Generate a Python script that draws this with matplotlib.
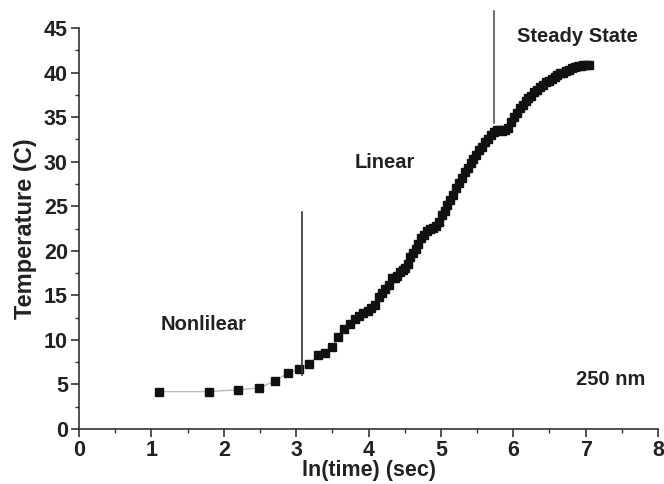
import numpy as np
import matplotlib
matplotlib.use('Agg')
import matplotlib.pyplot as plt
from matplotlib.ticker import MultipleLocator

plt.rcParams['font.family'] = ['Liberation Sans', 'DejaVu Sans']
plt.rcParams['font.weight'] = 'bold'

# ln(time) values
ln_time = [1.10, 1.79, 2.20, 2.48, 2.71, 2.89, 3.04, 3.18, 3.30, 3.40,
           3.50, 3.58, 3.66, 3.74, 3.81, 3.87, 3.93, 3.99, 4.04, 4.09,
           4.14, 4.19, 4.23, 4.28, 4.32, 4.36, 4.40, 4.44, 4.47, 4.51,
           4.54, 4.58, 4.61, 4.65, 4.69, 4.73, 4.77, 4.81, 4.85, 4.89,
           4.93, 4.97, 5.01, 5.05, 5.09, 5.13, 5.17, 5.21, 5.25, 5.29,
           5.33, 5.37, 5.41, 5.45, 5.49, 5.53, 5.57, 5.61, 5.65, 5.69,
           5.73, 5.77, 5.81, 5.85, 5.89, 5.93, 5.97, 6.01, 6.05, 6.09,
           6.13, 6.17, 6.21, 6.25, 6.29, 6.33, 6.37, 6.41, 6.45, 6.49,
           6.53, 6.57, 6.61, 6.65, 6.69, 6.73, 6.77, 6.81, 6.85, 6.89,
           6.93, 6.97, 7.01, 7.05]

# temperature (C)
temp = [4.2, 4.2, 4.4, 4.6, 5.4, 6.3, 6.7, 7.3, 8.3, 8.5,
        9.2, 10.3, 11.2, 11.8, 12.4, 12.7, 13.0, 13.3, 13.6, 13.9,
        14.8, 15.3, 15.7, 16.2, 16.9, 17.0, 17.2, 17.6, 17.8, 18.1,
        18.5, 19.3, 19.7, 20.2, 20.8, 21.4, 21.8, 22.2, 22.4, 22.6,
        22.8, 23.2, 24.0, 24.5, 25.1, 25.7, 26.3, 27.0, 27.6, 28.2,
        28.8, 29.3, 29.8, 30.3, 30.8, 31.3, 31.7, 32.2, 32.6, 33.0,
        33.3, 33.5, 33.5, 33.4, 33.5, 33.8, 34.4, 35.0, 35.5, 36.0,
        36.4, 36.8, 37.1, 37.4, 37.8, 38.1, 38.4, 38.6, 38.9, 39.1,
        39.3, 39.5, 39.7, 39.9, 40.0, 40.2, 40.3, 40.5, 40.6, 40.7,
        40.7, 40.8, 40.8, 40.8]

# region boundaries (x, y_bottom, y_top)
boundary1 = (3.08, 6.1, 24.4)
boundary2 = (5.74, 34.3, 46.9)

fig = plt.figure(figsize=(6.64, 4.84), dpi=100)
ax = fig.add_axes([0.119, 0.1136, 0.872, 0.8285])

ax.plot(ln_time, temp, color='#bbbbbb', lw=1.0, zorder=1)
ax.plot(ln_time, temp, ls='none', marker='s', ms=6.2, color='#111111', zorder=2)

ax.plot([boundary1[0], boundary1[0]], [boundary1[1], boundary1[2]], color='#333333', lw=1.2)
ax.plot([boundary2[0], boundary2[0]], [boundary2[1], boundary2[2]], color='#555555', lw=1.2,
        clip_on=False)

ax.text(1.72, 11.7, 'Nonlilear', fontsize=14.5, fontweight='bold', ha='center', va='center', color='#222222')
ax.text(4.22, 29.9, 'Linear', fontsize=14.5, fontweight='bold', ha='center', va='center', color='#222222')
ax.text(6.89, 44.1, 'Steady State', fontsize=14.5, fontweight='bold', ha='center', va='center', color='#222222')
ax.text(7.35, 5.6, '250 nm', fontsize=14.5, fontweight='bold', ha='center', va='center', color='#222222')

ax.set_xlim(0, 8)
ax.set_ylim(0, 45)
ax.xaxis.set_major_locator(MultipleLocator(1))
ax.xaxis.set_minor_locator(MultipleLocator(0.5))
ax.yaxis.set_major_locator(MultipleLocator(5))
ax.yaxis.set_minor_locator(MultipleLocator(2.5))

for s in ['top', 'right']:
    ax.spines[s].set_visible(False)
for s in ['left', 'bottom']:
    ax.spines[s].set_linewidth(1.2)
    ax.spines[s].set_color('#333333')

ax.tick_params(which='major', direction='out', length=6, width=1.2, colors='#333333',
               labelsize=15.5, labelcolor='#222222', pad=2)
ax.tick_params(which='minor', direction='out', length=3, width=1.0, colors='#333333')

ax.set_xlabel('ln(time) (sec)', fontsize=15.5, fontweight='bold', color='#222222', labelpad=-1)
ax.set_ylabel('Temperature (C)', fontsize=17, fontweight='bold', color='#222222', labelpad=5)

plt.savefig('out.png', dpi=100)
